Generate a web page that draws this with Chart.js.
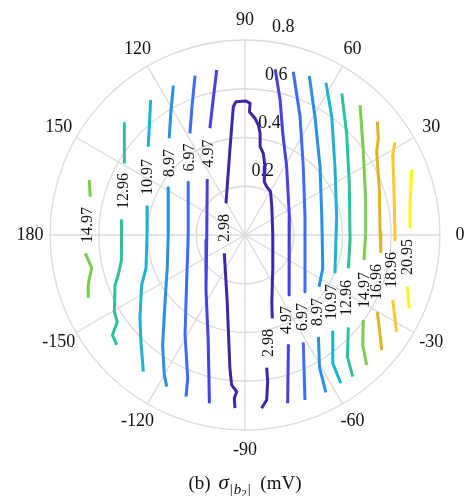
<!DOCTYPE html>
<html>
<head>
<meta charset="utf-8">
<script src="https://cdn.jsdelivr.net/npm/chart.js@4"></script>
<style>
  body { margin: 0; background: #fff; }
</style>
</head>
<body>
<canvas id="polarContour" width="464" height="496"></canvas>
<script>
// contour levels and their colours (parula-like)
const levels = [2.98, 4.97, 6.97, 8.97, 10.97, 12.96, 14.97, 16.96, 18.96, 20.95];
const levelColors = ['#3d26a8', '#4740e6', '#3f6cf5', '#2a8fe6', '#18b4d2',
                     '#2fc29a', '#7cca52', '#dcb42a', '#fbc636', '#f6f714'];
const radiusTicks = [0.2, 0.4, 0.6, 0.8];
const angleTicks = [0, 30, 60, 90, 120, 150, 180, -150, -120, -90, -60, -30];

// contour pieces for each level, points are [r*cos(theta), r*sin(theta)]
const seg298 = [
  [[-0.041,-0.710],[-0.044,-0.670],[-0.034,-0.643],[-0.055,-0.615],[-0.062,-0.546],[-0.073,-0.274],[-0.085,-0.075]],
  [[-0.078,0.130],[-0.062,0.349],[-0.048,0.526],[-0.037,0.547],[0.004,0.550],[0.021,0.540],[0.018,0.506],[0.041,0.479],
   [0.055,0.451],[0.062,0.417],[0.062,0.362],[0.075,0.335],[0.082,0.280],[0.079,0.219],[0.089,0.198],[0.105,0.178],
   [0.110,0.116],[0.114,0.000],[0.114,-0.137],[0.110,-0.274],[0.112,-0.342]],
  [[0.089,-0.544],[0.093,-0.602],[0.089,-0.677],[0.068,-0.711]]
];
const seg497 = [
  [[-0.116,0.677],[-0.131,0.554],[-0.144,0.438]],
  [[-0.155,0.230],[-0.157,-0.021],[-0.160,-0.226],[-0.151,-0.431],[-0.146,-0.690]],
  [[0.124,0.680],[0.144,0.554],[0.155,0.417],[0.171,0.280],[0.182,0.075],[0.181,-0.246]],
  [[0.178,-0.448],[0.175,-0.690]]
];
const seg697 = [
  [[-0.205,0.654],[-0.217,0.533],[-0.226,0.417]],
  [[-0.233,0.216],[-0.233,0],[-0.242,-0.274],[-0.246,-0.410],[-0.235,-0.588],[-0.242,-0.663]],
  [[0.198,0.670],[0.226,0.485],[0.239,0.280],[0.246,0.075],[0.246,-0.233]],
  [[0.239,-0.440],[0.246,-0.677]]
];
const seg897 = [
  [[-0.294,0.613],[-0.304,0.505],[-0.311,0.397]],
  [[-0.315,0.194],[-0.315,0],[-0.319,-0.135],[-0.328,-0.274],[-0.338,-0.451],[-0.331,-0.574],[-0.321,-0.622]],
  [[0.264,0.652],[0.287,0.485],[0.308,0.280],[0.315,0.075],[0.319,-0.137],[0.304,-0.212]],
  [[0.301,-0.418],[0.306,-0.544],[0.332,-0.646]]
];
const seg1097 = [
  [[-0.387,0.554],[-0.397,0.362]],
  [[-0.401,0.116],[-0.402,0],[-0.406,-0.135],[-0.424,-0.205],[-0.431,-0.341],[-0.427,-0.438],[-0.417,-0.561]],
  [[0.332,0.625],[0.356,0.485],[0.369,0.280],[0.376,0.075],[0.373,-0.021],[0.369,-0.157]],
  [[0.360,-0.397],[0.360,-0.526],[0.393,-0.608]]
];
const seg1296 = [
  [[-0.495,0.458],[-0.495,0.298]],
  [[-0.506,0.059],[-0.508,0],[-0.506,-0.103],[-0.520,-0.164],[-0.533,-0.205],[-0.536,-0.315],[-0.524,-0.356],
   [-0.544,-0.410],[-0.526,-0.451]],
  [[0.397,0.581],[0.417,0.417],[0.428,0.212],[0.431,-0.021],[0.424,-0.137]],
  [[0.424,-0.379],[0.420,-0.499],[0.442,-0.581]]
];
const seg1497 = [
  [[-0.639,0.226],[-0.635,0.157]],
  [[-0.655,-0.075],[-0.629,-0.135],[-0.640,-0.185],[-0.644,-0.217],[-0.643,-0.253]],
  [[0.472,0.533],[0.485,0.349],[0.495,0.144],[0.495,0.007],[0.488,-0.103]],
  [[0.485,-0.349],[0.483,-0.451],[0.499,-0.533]]
];
const seg1696 = [
  [[0.543,0.465],[0.547,0.397],[0.540,0.342],[0.551,0.192],[0.554,0.014],[0.557,-0.069]],
  [[0.543,-0.315],[0.554,-0.410],[0.561,-0.472]]
];
const seg1896 = [
  [[0.615,0.380],[0.606,0.328],[0.611,0.192],[0.615,0.014],[0.615,-0.021]],
  [[0.606,-0.267],[0.615,-0.342],[0.622,-0.397]]
];
const seg2095 = [
  [[0.684,0.267],[0.677,0.123],[0.677,0.034]],
  [[0.666,-0.212],[0.674,-0.301]]
];
const segments = [seg298, seg497, seg697, seg897, seg1097, seg1296, seg1497, seg1696, seg1896, seg2095];

// where the inline level labels sit
const labelSpots = [
  [[-0.082,0.029],[0.098,-0.443]],
  [[-0.148,0.334],[0.172,-0.349]],
  [[-0.226,0.318],[0.238,-0.336]],
  [[-0.308,0.295],[0.299,-0.316]],
  [[-0.398,0.238],[0.357,-0.275]],
  [[-0.496,0.181],[0.418,-0.258]],
  [[-0.644,0.041],[0.492,-0.226]],
  [[0.542,-0.193]],
  [[0.603,-0.144]],
  [[0.669,-0.090]]
];

const serif = '"Liberation Serif", "DejaVu Serif", serif';

const datasets = levels.map((lv, i) => {
  const pts = [];
  segments[i].forEach((s, k) => {
    if (k > 0) pts.push({x: NaN, y: NaN});
    s.forEach(p => pts.push({x: p[0], y: p[1]}));
  });
  return {
    label: lv.toFixed(2),
    data: pts,
    showLine: true,
    spanGaps: false,
    borderColor: levelColors[i],
    borderWidth: 3,
    borderJoinStyle: 'round',
    pointRadius: 0,
    tension: 0
  };
});

const polarGrid = {
  id: 'polarGrid',
  beforeDatasetsDraw(chart) {
    const {ctx, scales: {x, y}} = chart;
    const cx = x.getPixelForValue(0), cy = y.getPixelForValue(0);
    const unit = x.getPixelForValue(1) - cx;
    const outer = radiusTicks[radiusTicks.length - 1] * unit;
    ctx.save();
    ctx.strokeStyle = '#dadada';
    ctx.lineWidth = 1.3;
    radiusTicks.forEach(r => {
      ctx.beginPath();
      ctx.arc(cx, cy, r * unit, 0, Math.PI * 2);
      ctx.stroke();
    });
    angleTicks.forEach(a => {
      const t = a * Math.PI / 180;
      ctx.beginPath();
      ctx.moveTo(cx, cy);
      ctx.lineTo(cx + outer * Math.cos(t), cy - outer * Math.sin(t));
      ctx.stroke();
    });
    ctx.fillStyle = '#111';
    ctx.font = '18px ' + serif;
    ctx.textAlign = 'center';
    ctx.textBaseline = 'middle';
    angleTicks.forEach(a => {
      const t = a * Math.PI / 180;
      ctx.fillText(String(a), cx + (outer + 20) * Math.cos(t), cy - (outer + 20) * Math.sin(t));
    });
    const rt = 82 * Math.PI / 180;
    radiusTicks.forEach(r => {
      ctx.fillText(r.toFixed(1), cx + r * unit * Math.cos(rt) + 11, cy - r * unit * Math.sin(rt) - 15);
    });
    ctx.restore();
  },
  afterDatasetsDraw(chart) {
    const {ctx, scales: {x, y}} = chart;
    ctx.save();
    ctx.fillStyle = '#111';
    ctx.font = '16px ' + serif;
    ctx.textAlign = 'center';
    ctx.textBaseline = 'middle';
    labelSpots.forEach((spots, i) => {
      spots.forEach(p => {
        ctx.save();
        ctx.translate(x.getPixelForValue(p[0]), y.getPixelForValue(p[1]));
        ctx.rotate(-Math.PI / 2);
        ctx.fillText(levels[i].toFixed(2), 0, 0);
        ctx.restore();
      });
    });

    // caption: (b) sigma_{|b_2|} (mV)
    const parts = [
      {t: '(b) ', f: '19px ' + serif, dy: 0, gap: 3},
      {t: 'σ', f: 'italic 21px ' + serif, dy: 0, gap: 1},
      {t: '|', f: '15px ' + serif, dy: 5, gap: 1},
      {t: 'b', f: 'italic 15px ' + serif, dy: 5, gap: 0},
      {t: '2', f: '11px ' + serif, dy: 8, gap: 1},
      {t: '|', f: '15px ' + serif, dy: 5, gap: 0},
      {t: '  (mV)', f: '19px ' + serif, dy: 0, gap: 0}
    ];
    ctx.textAlign = 'left';
    ctx.textBaseline = 'alphabetic';
    let total = 0;
    parts.forEach(p => { ctx.font = p.f; p.w = ctx.measureText(p.t).width + p.gap; total += p.w; });
    let px = x.getPixelForValue(0) - total / 2;
    const base = 489;
    parts.forEach(p => {
      ctx.font = p.f;
      ctx.fillText(p.t, px, base + p.dy);
      px += p.w;
    });
    ctx.restore();
  }
};

new Chart(document.getElementById('polarContour').getContext('2d'), {
  type: 'scatter',
  data: { datasets: datasets },
  options: {
    responsive: false,
    animation: false,
    layout: { padding: { left: 50, right: 24, top: 40, bottom: 66 } },
    scales: {
      x: { type: 'linear', min: -0.8, max: 0.8, display: false },
      y: { type: 'linear', min: -0.8, max: 0.8, display: false }
    },
    plugins: {
      legend: { display: false },
      tooltip: { enabled: false }
    }
  },
  plugins: [polarGrid]
});
</script>
</body>
</html>
